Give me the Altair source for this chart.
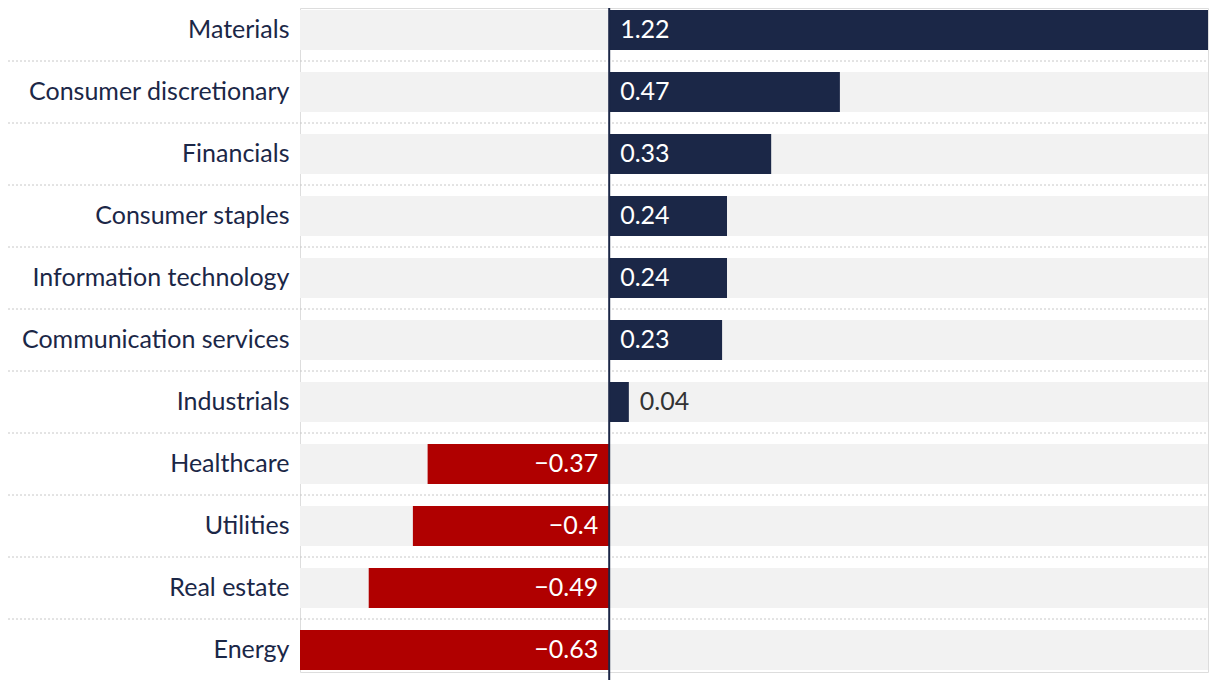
import altair as alt
import pandas as pd

sectors = ["Materials", "Consumer discretionary", "Financials", "Consumer staples",
           "Information technology", "Communication services", "Industrials",
           "Healthcare", "Utilities", "Real estate", "Energy"]
values = [1.22, 0.47, 0.33, 0.24, 0.24, 0.23, 0.04, -0.37, -0.4, -0.49, -0.63]

XMIN, XMAX = -0.63, 1.22
NAVY = "#1b2747"
RED = "#b00000"
FONT = "Lato"
FS = 25

df = pd.DataFrame({"sector": sectors, "value": values, "lo": XMIN, "hi": XMAX})
df["label"] = [("\u2212" + str(abs(v))) if v < 0 else str(v) for v in values]
df["idx"] = range(len(df))

xs = alt.Scale(domain=[XMIN, XMAX], nice=False, zero=False)
ys = alt.Scale(domain=sectors, paddingInner=22 / 62, paddingOuter=1 / 31)

base = alt.Chart(df)

y_enc = alt.Y("sector:N", sort=sectors, scale=ys,
              axis=alt.Axis(title=None, ticks=False, domain=False, grid=False,
                            labelFont=FONT, labelFontSize=FS, labelColor=NAVY,
                            labelPadding=11, labelLimit=400))

bg = base.mark_bar(color="#f2f2f2").encode(
    x=alt.X("lo:Q", scale=xs, axis=None), x2="hi:Q", y=y_enc)

seps = base.transform_filter("datum.idx < 10").mark_rule(
    color="#c8c8c8", strokeDash=[2, 2], strokeWidth=1, yOffset=31).encode(
    x=alt.value(-292), x2=alt.value(908),
    y=alt.Y("sector:N", sort=sectors, scale=ys))

bars = base.mark_bar().encode(
    x=alt.X("value:Q", scale=xs), x2=alt.datum(0),
    y=alt.Y("sector:N", sort=sectors, scale=ys),
    color=alt.condition("datum.value < 0", alt.value(RED), alt.value(NAVY)))

zero = alt.Chart(pd.DataFrame({"z": [0]})).mark_rule(color=NAVY, strokeWidth=2).encode(
    x=alt.X("z:Q", scale=xs), y=alt.value(0), y2=alt.value(672))

txt_pos = base.transform_filter("datum.value >= 0.1").mark_text(
    align="left", baseline="middle", dx=11, font=FONT, fontSize=FS, color="white").encode(
    x=alt.X("z:Q", scale=xs), y=alt.Y("sector:N", sort=sectors, scale=ys), text="label:N"
).transform_calculate(z="0")

txt_small = base.transform_filter("datum.value >= 0 && datum.value < 0.1").mark_text(
    align="left", baseline="middle", dx=11, font=FONT, fontSize=FS, color="#333333").encode(
    x=alt.X("value:Q", scale=xs), y=alt.Y("sector:N", sort=sectors, scale=ys), text="label:N")

txt_neg = base.transform_filter("datum.value < 0").mark_text(
    align="right", baseline="middle", dx=-11, font=FONT, fontSize=FS, color="white").encode(
    x=alt.X("z:Q", scale=xs), y=alt.Y("sector:N", sort=sectors, scale=ys), text="label:N"
).transform_calculate(z="0")

chart = alt.layer(bg, seps, bars, zero, txt_pos, txt_small, txt_neg).properties(
    width=908, height=664,
    autosize=alt.AutoSizeParams(type="none"),
    padding={"left": 292, "top": 0, "right": 4, "bottom": 8},
).configure_view(stroke=None, strokeWidth=0).configure(background="white")

chart.save("out.html", embed_options={"renderer": "svg", "actions": False})
